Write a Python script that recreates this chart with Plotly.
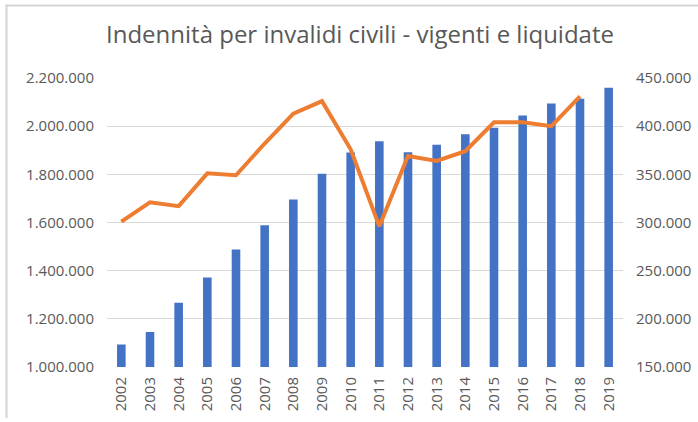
import plotly.graph_objects as go

# anni e valori
anni = ["2002", "2003", "2004", "2005", "2006", "2007", "2008", "2009", "2010",
        "2011", "2012", "2013", "2014", "2015", "2016", "2017", "2018", "2019"]
vigenti = [1093000, 1145000, 1267000, 1372000, 1488000, 1589000, 1695000, 1802000, 1891000,
           1937000, 1892000, 1923000, 1966000, 1993000, 2044000, 2094000, 2114000, 2159000]
liquidate = [301000, 321000, 317000, 351000, 349000, 382000, 413000, 426000, 376000,
             296000, 369000, 364000, 374000, 404000, 404000, 400000, 431000, None]

left_ticks = [1000000, 1200000, 1400000, 1600000, 1800000, 2000000, 2200000]
right_ticks = [150000, 200000, 250000, 300000, 350000, 400000, 450000]

font_fam = "Open Sans, Noto Sans, sans-serif"
grey = "#595959"

fig = go.Figure()
fig.add_trace(go.Bar(x=anni, y=vigenti, marker=dict(color="#4472C4", line=dict(width=0)),
                     name="vigenti"))
fig.add_trace(go.Scatter(x=anni, y=liquidate, yaxis="y2", mode="lines",
                         line=dict(color="#ED7D31", width=4), name="liquidate"))

L, R, T, B = 107, 75, 78, 55
W, H = 698, 422
pw, ph = W - L - R, H - T - B

tick_font = dict(family=font_fam, size=15, color=grey)


def px_x(v):
    return (v - L) / pw


def px_y(v):
    return (H - B - v) / ph


# bordo grigio in alto e a sinistra (rettangoli pieni, in pixel)
border = "#D4D4D4"
shapes = [
    dict(type="rect", xref="paper", yref="paper", layer="above",
         x0=px_x(5.5), x1=px_x(7.5), y0=px_y(418), y1=px_y(4.5),
         fillcolor=border, line=dict(width=0)),
    dict(type="rect", xref="paper", yref="paper", layer="above",
         x0=px_x(5.5), x1=px_x(698), y0=px_y(6.5), y1=px_y(4.5),
         fillcolor=border, line=dict(width=0)),
]

fig.update_layout(
    width=W, height=H,
    margin=dict(l=L, r=R, t=T, b=B),
    paper_bgcolor="white", plot_bgcolor="white",
    separators=",.",
    showlegend=False,
    bargap=0.7,
    title=dict(text="Indennità per invalidi civili - vigenti e liquidate",
               x=px_x(360), xref="paper", xanchor="center",
               y=1 - 35 / H, yanchor="middle",
               font=dict(family=font_fam, size=24, color=grey)),
    xaxis=dict(type="category", tickangle=-90, showgrid=False, showline=False,
               automargin=False, ticks="", ticklabelstandoff=6, tickfont=tick_font),
    yaxis=dict(range=[1000000, 2200000], tickvals=left_ticks, tickformat=",d",
               gridcolor="#D9D9D9", gridwidth=1, zeroline=False, showline=False,
               automargin=False, ticks="", ticklabelstandoff=12, tickfont=tick_font),
    yaxis2=dict(range=[150000, 450000], tickvals=right_ticks, tickformat=",d",
                overlaying="y", side="right", showgrid=False, zeroline=False,
                automargin=False, showline=False, ticks="", ticklabelstandoff=12,
                tickfont=tick_font),
    shapes=shapes,
)

# la pagina ha un margine di 8px sul body: lo togliamo
fig.write_html("out.html", config={"displayModeBar": False},
               post_script="document.body.style.margin='0';")
